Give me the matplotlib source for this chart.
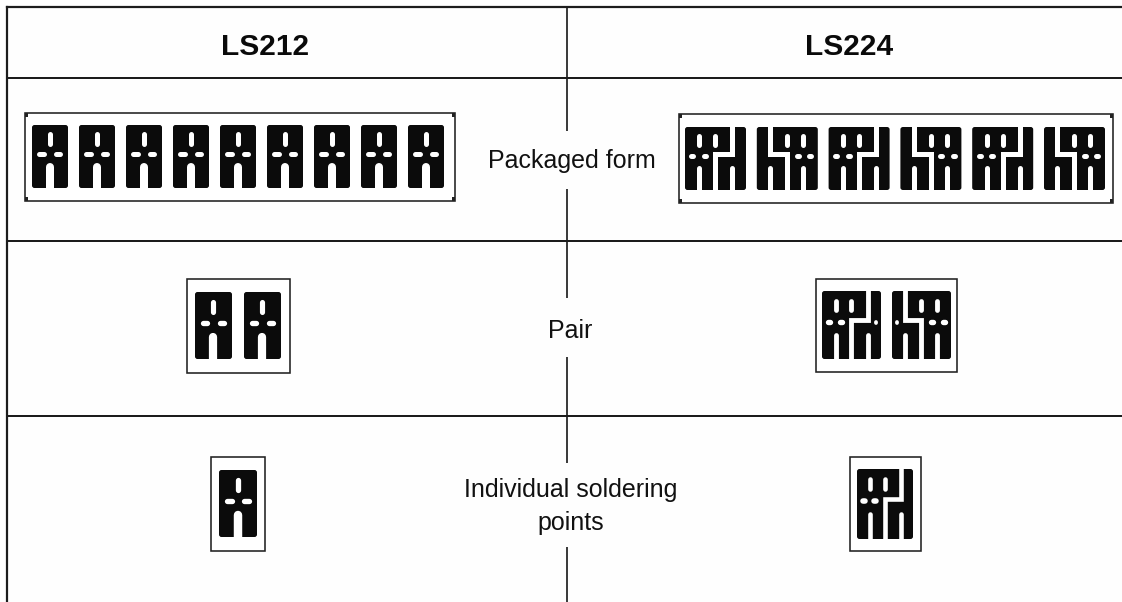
#!/usr/bin/env python3
"""Solder pad layouts for LS212 and LS224, packaged form / pair / single."""

from __future__ import annotations

import matplotlib

matplotlib.use("Agg")

import matplotlib.pyplot as plt
from matplotlib.patches import FancyBboxPatch, Rectangle

plt.rcParams["font.family"] = ["Liberation Sans", "DejaVu Sans"]

HEADERS = ["LS212", "LS224"]
ROW_LABELS = ["Packaged form", "Pair", "Individual soldering\npoints"]

# everything below is in reference pixels: (left, right, top, bottom)
FRAMES_212 = [(25, 455, 113, 201), (187, 290, 279, 373), (211, 265, 457, 551)]
FRAMES_224 = [(679, 1113, 114, 203), (816, 957, 279, 372), (850, 921, 457, 551)]

# pad rows: (first x, pitch, count, width, top, bottom)
PADS_212 = [(32, 47, 9, 36, 125, 188), (195, 49, 2, 37, 292, 359), (219, 0, 1, 38, 470, 537)]
PADS_224 = [(685, 71.8, 6, 61, 127, 190), (822, 70, 2, 59, 291, 359), (857, 0, 1, 56, 469, 539)]

ROW_LINES = [78, 241, 416]
CENTRE_X = 567
CENTRE_SEGMENTS = [(7, 131), (189, 298), (357, 463), (547, 602)]

INK = "#0b0b0b"
PX = 0.72  # one pixel in points at dpi 100


def white_line(ax, xs, ys, width, cap="round"):
    ax.plot(xs, ys, color="white", lw=width * PX, solid_capstyle=cap,
            solid_joinstyle="miter", zorder=3)


def draw_body(ax, x, top, w, h):
    ax.add_patch(FancyBboxPatch((x + 2.5, top + 2.5), w - 5, h - 5,
                                boxstyle="round,pad=2.5,rounding_size=2.5",
                                fc=INK, ec="none", zorder=2))


def draw_pad_212(ax, x, top, w, h):
    """One LS212 pad, drawn on a 36 x 63 grid."""
    sx, sy = w / 36, h / 63
    draw_body(ax, x, top, w, h)
    white_line(ax, [x + 18 * sx] * 2, [top + 9 * sy, top + 19 * sy], 5 * sx)
    white_line(ax, [x + 7.5 * sx, x + 12 * sx], [top + 29 * sy] * 2, 5 * sy)
    white_line(ax, [x + 24 * sx, x + 28.5 * sx], [top + 29 * sy] * 2, 5 * sy)
    white_line(ax, [x + 18 * sx] * 2, [top + 42 * sy, top + h + 5], 8 * sx)


def draw_pad_224(ax, x, top, w, h, mirror=False):
    """One LS224 pad, drawn on a 61 x 63 grid, the even ones mirrored."""
    sy = h / 63
    sx = w / 61

    def ux(u):
        return x + (61 - u if mirror else u) * sx

    draw_body(ax, x, top, w, h)
    # split between the two halves
    white_line(ax, [ux(47.5), ux(47.5), ux(30.5), ux(30.5)],
               [top - 1, top + 27 * sy, top + 27 * sy, top + h + 1], 5 * sx, cap="butt")
    # leg slots
    for u in (14.5, 47.5):
        white_line(ax, [ux(u)] * 2, [top + 40.5 * sy, top + h + 4], 5 * sx)
    # upper slots
    for u in (14.5, 30.5):
        white_line(ax, [ux(u)] * 2, [top + 9 * sy, top + 18 * sy], 5 * sx)
    # dots
    for u in (7.5, 20):
        white_line(ax, [ux(u - 1), ux(u + 1)], [top + 28.5 * sy] * 2, 5 * sy)
    white_line(ax, [ux(55.7)] * 2, [top + 29 * sy, top + 29.2 * sy], 3.5 * sy)


def draw_frame(ax, frame, corners=False):
    left, right, top, bottom = frame
    ax.add_patch(Rectangle((left, top), right - left, bottom - top, fc="white",
                           ec="#222222", lw=1.6 * PX, zorder=1))
    if corners:
        for cx, cy in [(left, top), (left, bottom - 4), (right - 3, top), (right - 3, bottom - 4)]:
            ax.add_patch(Rectangle((cx, cy), 3, 4, fc="#222222", ec="none", zorder=2))


def main() -> None:
    fig = plt.figure(figsize=(11.22, 6.02), dpi=100, facecolor="#fefefe")
    ax = fig.add_axes([0, 0, 1, 1])
    ax.set_xlim(0, 1122)
    ax.set_ylim(602, 0)
    ax.axis("off")

    # table rules
    ax.plot([7.5, 1122], [7, 7], color="#1c1c1c", lw=2.2 * PX)
    ax.plot([7.5, 7.5], [7, 602], color="#1c1c1c", lw=2.2 * PX)
    for y in ROW_LINES:
        ax.plot([7.5, 1122], [y, y], color="#1c1c1c", lw=2 * PX)
    for y0, y1 in CENTRE_SEGMENTS:
        ax.plot([CENTRE_X, CENTRE_X], [y0, y1], color="#1c1c1c", lw=1.7 * PX,
                solid_capstyle="butt")

    # headers
    ax.text(265.5, 55, HEADERS[0], ha="center", va="baseline", fontsize=21.5, fontweight="bold",
            color="#0a0a0a")
    ax.text(849.5, 55, HEADERS[1], ha="center", va="baseline", fontsize=21.5, fontweight="bold",
            color="#0a0a0a")

    # row labels
    ax.text(572, 168, ROW_LABELS[0], ha="center", va="baseline", fontsize=18, color="#111111")
    ax.text(570, 338, ROW_LABELS[1], ha="center", va="baseline", fontsize=18, color="#111111")
    first, second = ROW_LABELS[2].split("\n")
    ax.text(571, 497, first, ha="center", va="baseline", fontsize=18, color="#111111")
    ax.text(571, 530, second, ha="center", va="baseline", fontsize=18, color="#111111")

    for i, frame in enumerate(FRAMES_212):
        draw_frame(ax, frame, corners=i == 0)
    for i, frame in enumerate(FRAMES_224):
        draw_frame(ax, frame, corners=i == 0)

    for x0, pitch, count, w, top, bottom in PADS_212:
        for i in range(count):
            draw_pad_212(ax, x0 + i * pitch, top, w, bottom - top)
    for x0, pitch, count, w, top, bottom in PADS_224:
        for i in range(count):
            draw_pad_224(ax, x0 + i * pitch, top, w, bottom - top, mirror=i % 2 == 1)

    fig.savefig("out.png", dpi=100, facecolor=fig.get_facecolor())
    plt.close(fig)


if __name__ == "__main__":
    main()
